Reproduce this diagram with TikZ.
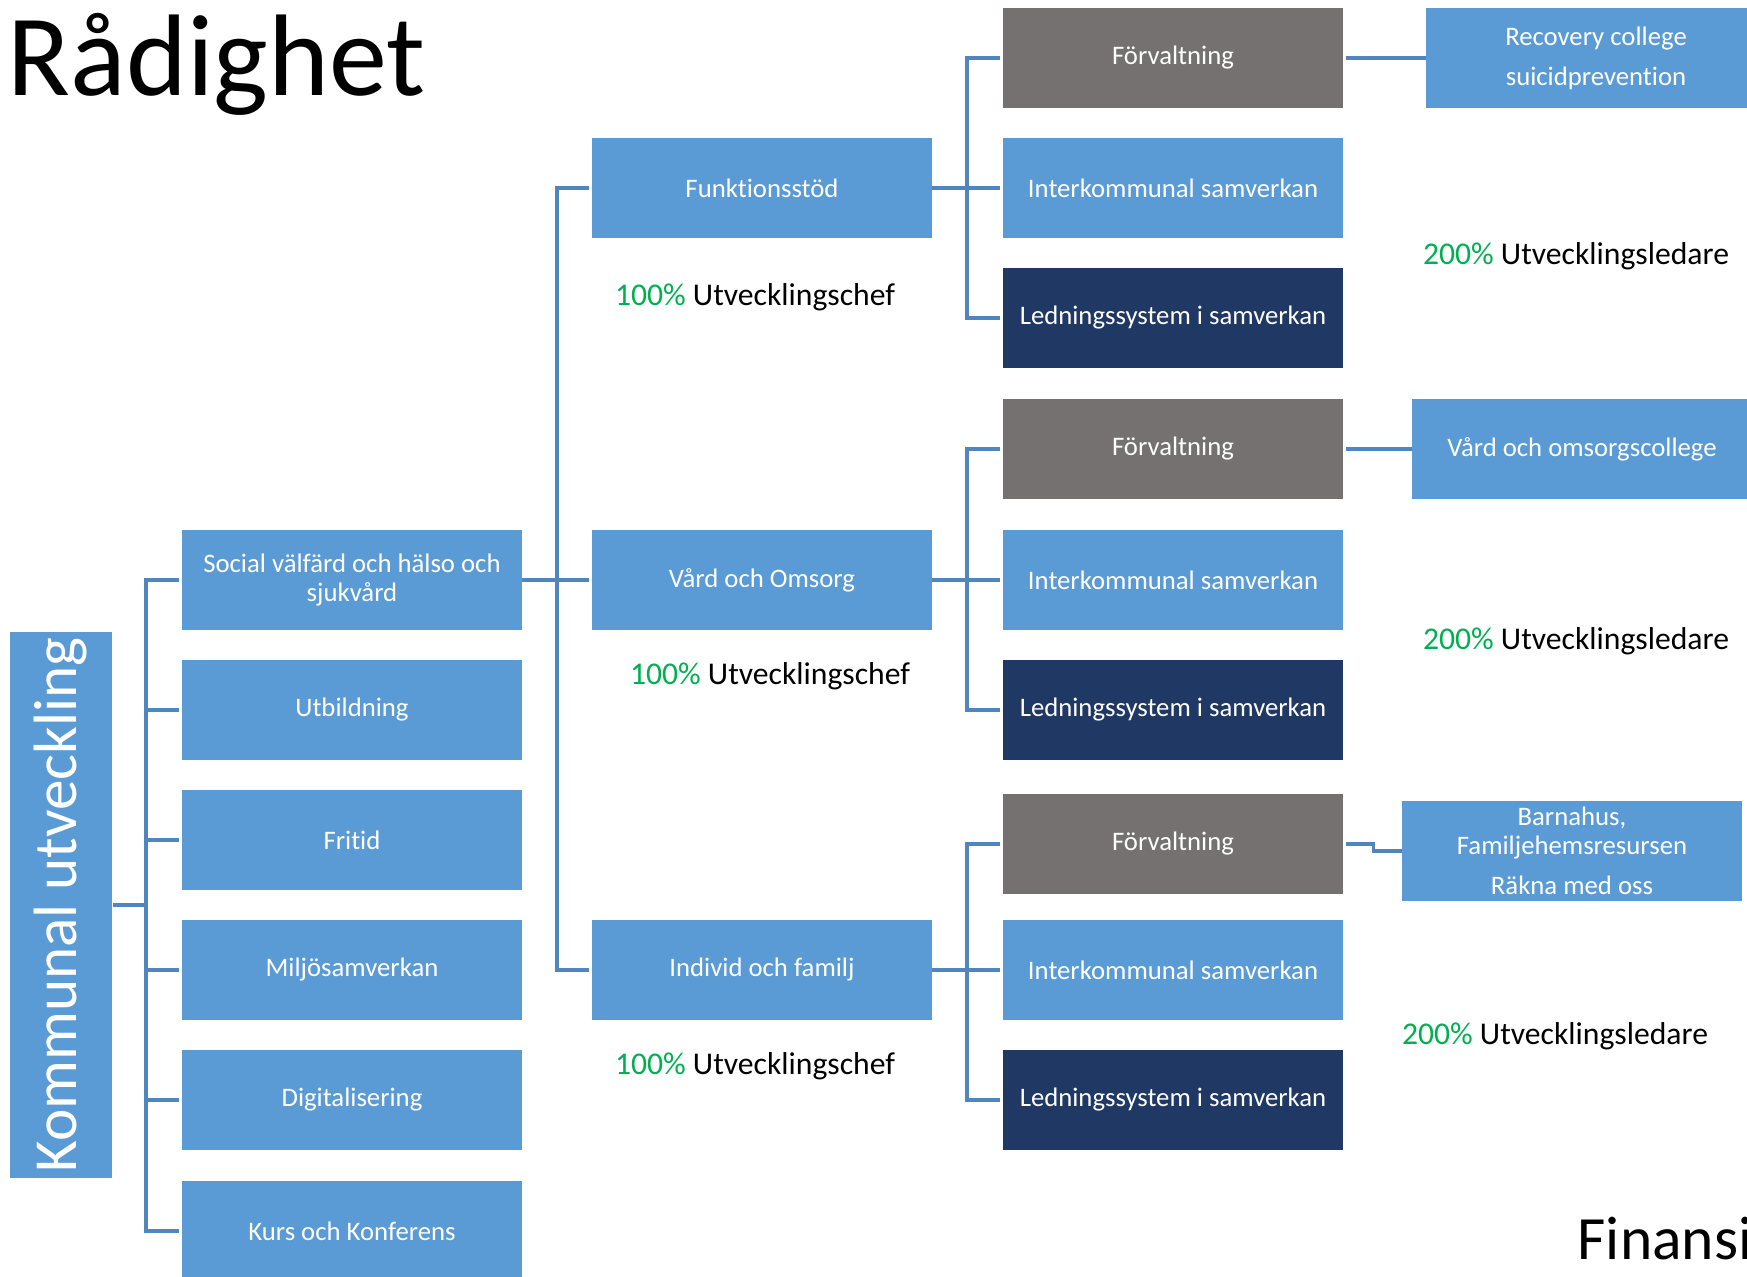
\documentclass[tikz,border=0pt]{standalone}
\usepackage{fontspec}
\setmainfont{Carlito}[Ligatures=NoCommon]

\definecolor{boxblue}{HTML}{5B9BD5}
\definecolor{boxgray}{HTML}{767171}
\definecolor{boxnavy}{HTML}{203864}
\definecolor{pctgreen}{HTML}{00B050}
\definecolor{linkblue}{HTML}{4F86C0}

\begin{document}
\begin{tikzpicture}[x=0.01cm, y=-0.01cm,
  unit/.style={fill=boxblue, text=white, minimum width=3.39cm, minimum height=1cm,
    inner sep=0pt, align=center, font=\fontsize{7.6}{8.4}\selectfont},
  admin/.style={unit, fill=boxgray},
  lead/.style={unit, fill=boxnavy},
  link/.style={draw=linkblue, line width=0.9pt},
  staff/.style={anchor=base, font=\fontsize{9}{11}\selectfont}]

\useasboundingbox (0,0) rectangle (1747,1277);
\clip (0,0) rectangle (1747,1277);

%% titles
\node[anchor=base west, inner sep=0pt, font=\fontsize{33}{36}\selectfont] (title) at (7,96) {Rådighet};
\node[anchor=base west, inner sep=0pt, font=\fontsize{17.5}{20}\selectfont] (fin) at (1577,1260) {Finansi};

%% root
\node[unit, rotate=90, minimum width=5.45cm, minimum height=1.02cm,
  font=\fontsize{17.4}{19}\selectfont] (ku) at (61,905) {Kommunal utveckling};

%% areas
\node[unit] (soc)  at (352,580)  {Social välfärd och hälso och\\sjukvård};
\node[unit] (utb)  at (352,710)  {Utbildning};
\node[unit] (fri)  at (352,840)  {Fritid};
\node[unit] (milj) at (352,970)  {Miljösamverkan};
\node[unit] (dig)  at (352,1100) {Digitalisering};
\node[unit] (kurs) at (352,1231) {Kurs och Konferens};

%% sections
\node[unit] (funk) at (762,188) {Funktionsstöd};
\node[unit] (vard) at (762,580) {Vård och Omsorg};
\node[unit] (ind)  at (762,970) {Individ och familj};

%% section staff
\node[staff] (chefA) at (755,306)  {\textcolor{pctgreen}{100\%} Utvecklingschef};
\node[staff] (chefB) at (770,685)  {\textcolor{pctgreen}{100\%} Utvecklingschef};
\node[staff] (chefC) at (755,1075) {\textcolor{pctgreen}{100\%} Utvecklingschef};

%% groups
\node[admin] (forvA)  at (1173,58)   {Förvaltning};
\node[unit]  (interA) at (1173,188)  {Interkommunal samverkan};
\node[lead]  (ledA)   at (1173,318)  {Ledningssystem i samverkan};
\node[admin] (forvB)  at (1173,449)  {Förvaltning};
\node[unit]  (interB) at (1173,580)  {Interkommunal samverkan};
\node[lead]  (ledB)   at (1173,710)  {Ledningssystem i samverkan};
\node[admin] (forvC)  at (1173,844)  {Förvaltning};
\node[unit]  (interC) at (1173,970)  {Interkommunal samverkan};
\node[lead]  (ledC)   at (1173,1100) {Ledningssystem i samverkan};

%% projects
\node[unit] (recov)   at (1596,58)  {Recovery college\\[3pt]suicidprevention};
\node[unit] (vardcol) at (1582,449) {Vård och omsorgscollege};
\node[unit] (barna)   at (1572,851) {Barnahus,\\Familjehemsresursen\\[3pt]Räkna med oss};

%% group staff
\node[staff] (ledrA) at (1576,265)  {\textcolor{pctgreen}{200\%} Utvecklingsledare};
\node[staff] (ledrB) at (1576,650)  {\textcolor{pctgreen}{200\%} Utvecklingsledare};
\node[staff] (ledrC) at (1555,1045) {\textcolor{pctgreen}{200\%} Utvecklingsledare};

%% root to areas
\coordinate (hub) at (146,905);
\draw[link] (ku.south) -- (hub);
\foreach \n in {soc,utb,fri,milj,dig,kurs}
  \draw[link, shorten >=0.03cm] (hub) |- (\n.west);

%% areas to sections
\coordinate (mid) at (557,580);
\draw[link] (soc.east) -- (mid);
\foreach \n in {funk,vard,ind}
  \draw[link, shorten >=0.03cm] (mid) |- (\n.west);

%% sections to groups
\coordinate (hubA) at (967,188);
\coordinate (hubB) at (967,580);
\coordinate (hubC) at (967,970);
\draw[link] (funk.east) -- (hubA);
\draw[link] (vard.east) -- (hubB);
\draw[link] (ind.east) -- (hubC);
\foreach \g in {A,B,C}{
  \foreach \n in {forv,inter,led}
    \draw[link, shorten >=0.03cm] (hub\g) |- (\n\g.west);
}

%% groups to projects
\draw[link, shorten <=0.03cm] (forvA.east) -- (recov.west);
\draw[link, shorten <=0.03cm] (forvB.east) -- (vardcol.west);
\draw[link, shorten <=0.03cm] (forvC.east) -- ++(30,0) |- (barna.west);

\end{tikzpicture}
\end{document}
